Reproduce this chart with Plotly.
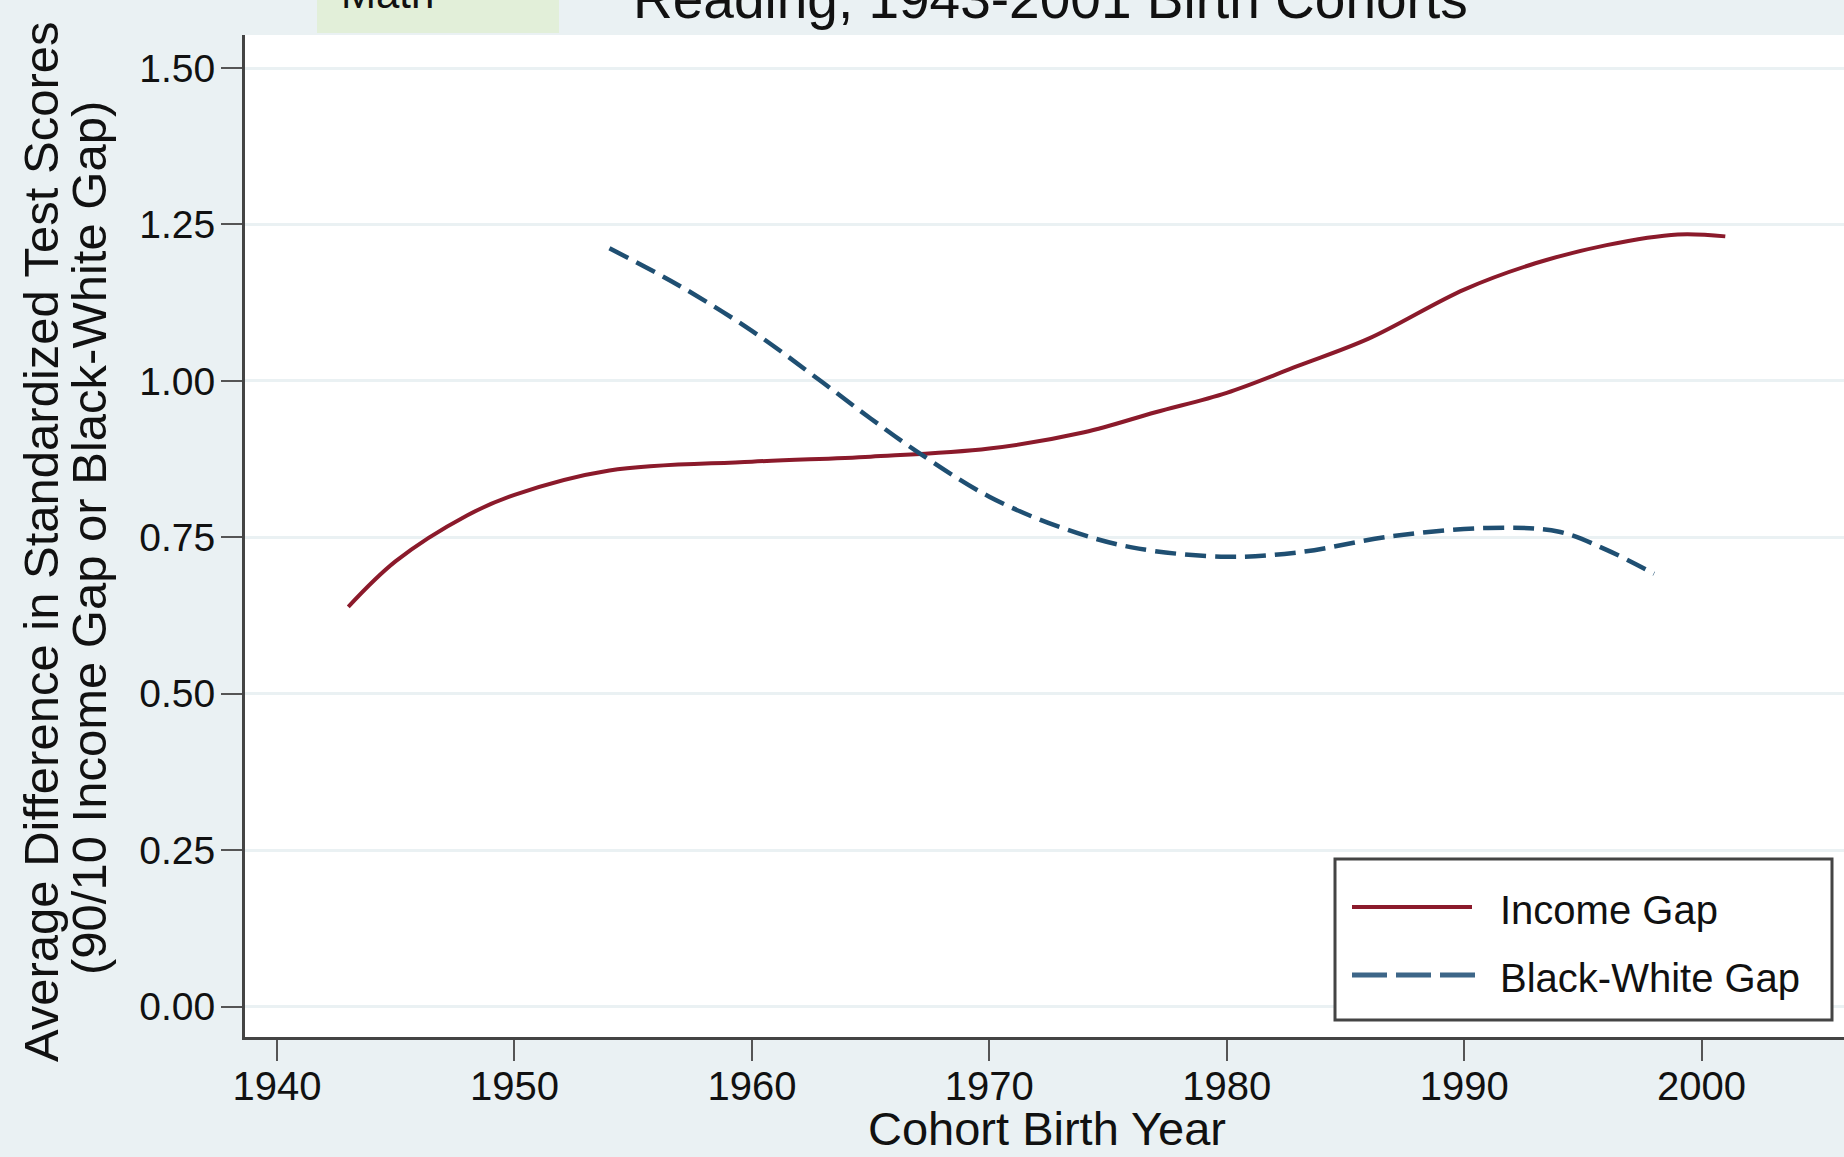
import plotly.graph_objects as go

# ---- data ----
income_years = [1943, 1945, 1948, 1950, 1954, 1960, 1965, 1970, 1974, 1977,
                1980, 1983, 1986, 1990, 1993, 1996, 1999, 2001]
income_gap = [0.639, 0.712, 0.785, 0.818, 0.857, 0.871, 0.879, 0.892, 0.918, 0.950,
              0.981, 1.024, 1.068, 1.146, 1.188, 1.217, 1.234, 1.231]

bw_years = [1954, 1957, 1960, 1963, 1965, 1967, 1970, 1973, 1976, 1980,
            1983, 1987, 1991, 1994, 1996, 1998]
bw_gap = [1.212, 1.151, 1.080, 0.997, 0.940, 0.886, 0.815, 0.766, 0.734, 0.719,
          0.726, 0.752, 0.765, 0.759, 0.730, 0.692]

x_ticks = [1940, 1950, 1960, 1970, 1980, 1990, 2000]
y_ticks = [0.0, 0.25, 0.5, 0.75, 1.0, 1.25, 1.5]
y_ticktext = ["0.00", "0.25", "0.50", "0.75", "1.00", "1.25", "1.50"]

series_names = ["Income Gap", "Black-White Gap"]
title_text = "Reading, 1943-2001 Birth Cohorts"
corner_label = "Math"
x_title = "Cohort Birth Year"
y_title_1 = "Average Difference in Standardized Test Scores"
y_title_2 = "(90/10 Income Gap or Black-White Gap)"

RED = "#8b1a2b"
BLUE = "#1f4f72"
BG = "#eaf1f3"
FONT = "Liberation Sans, Arial, sans-serif"

W, H = 1844, 1157
ML, MR, MT, MB = 245, 0, 35, 120
PW, PH = W - ML - MR, H - MT - MB


def px_x(p):
    return (p - ML) / PW


def px_y(p):
    return (H - MB - p) / PH


fig = go.Figure()
fig.add_trace(go.Scatter(x=income_years, y=income_gap, mode="lines",
                         name=series_names[0],
                         line=dict(color=RED, width=4, shape="spline", smoothing=1.0)))
fig.add_trace(go.Scatter(x=bw_years, y=bw_gap, mode="lines",
                         name=series_names[1],
                         line=dict(color=BLUE, width=4.5, shape="spline", smoothing=1.0,
                                   dash="21px,9px")))

fig.update_layout(
    width=W, height=H,
    margin=dict(l=ML, r=MR, t=MT, b=MB, pad=0),
    paper_bgcolor=BG, plot_bgcolor="white",
    showlegend=False,
    font=dict(family=FONT, color="#111111"),
)

fig.update_xaxes(range=[1938.65, 2006.0], tickvals=x_ticks,
                 ticks="outside", ticklen=21, tickwidth=2, tickcolor="#555555",
                 showgrid=False, zeroline=False,
                 showline=True, linecolor="#444444", linewidth=3,
                 tickfont=dict(size=40, family=FONT, color="#111111"),
                 ticklabelstandoff=-9)
fig.update_yaxes(range=[-0.0484, 1.5528], tickvals=y_ticks, ticktext=y_ticktext,
                 ticks="outside", ticklen=21, tickwidth=2, tickcolor="#555555",
                 showgrid=True, gridcolor=BG, gridwidth=3, zeroline=False,
                 showline=True, linecolor="#444444", linewidth=3,
                 tickfont=dict(size=39, family=FONT, color="#111111"),
                 ticklabelstandoff=-2)

shapes = []
annotations = []

# green "Math" box at the top (partly cut off)
shapes.append(dict(type="rect", xref="paper", yref="paper",
                   x0=px_x(317), x1=px_x(559), y0=px_y(33), y1=px_y(-5),
                   fillcolor="#e2efd9", line=dict(width=0), layer="above"))
annotations.append(dict(text=corner_label, xref="paper", yref="paper",
                        x=px_x(339), y=px_y(19), xanchor="left", yanchor="bottom",
                        showarrow=False, font=dict(size=42, family=FONT, color="#111111")))

# title (cut off at top)
annotations.append(dict(text=title_text, xref="paper", yref="paper",
                        x=px_x(1050), y=px_y(32), xanchor="center", yanchor="bottom",
                        showarrow=False, font=dict(size=55, family=FONT, color="#111111")))

# axis titles
annotations.append(dict(text=x_title, xref="paper", yref="paper",
                        x=px_x(1047), y=px_y(1157), xanchor="center", yanchor="bottom",
                        showarrow=False, font=dict(size=47, family=FONT, color="#111111")))
annotations.append(dict(text=y_title_1, xref="paper", yref="paper",
                        x=px_x(41), y=px_y(542), xanchor="center", yanchor="middle",
                        textangle=-90, showarrow=False,
                        font=dict(size=49, family=FONT, color="#111111")))
annotations.append(dict(text=y_title_2, xref="paper", yref="paper",
                        x=px_x(89), y=px_y(538), xanchor="center", yanchor="middle",
                        textangle=-90, showarrow=False,
                        font=dict(size=49, family=FONT, color="#111111")))

# custom legend box
shapes.append(dict(type="rect", xref="paper", yref="paper",
                   x0=px_x(1335), x1=px_x(1832), y0=px_y(1020), y1=px_y(859),
                   fillcolor="white", line=dict(color="#444444", width=3), layer="above"))
shapes.append(dict(type="line", xref="paper", yref="paper",
                   x0=px_x(1352), x1=px_x(1472), y0=px_y(907), y1=px_y(907),
                   line=dict(color=RED, width=4), layer="above"))
shapes.append(dict(type="line", xref="paper", yref="paper",
                   x0=px_x(1352), x1=px_x(1475), y0=px_y(975), y1=px_y(975),
                   line=dict(color="#3d6688", width=5, dash="35px,9px"), layer="above"))
annotations.append(dict(text=series_names[0], xref="paper", yref="paper",
                        x=px_x(1498), y=px_y(907), xanchor="left", yanchor="middle",
                        yshift=-3, showarrow=False,
                        font=dict(size=40, family=FONT, color="#111111")))
annotations.append(dict(text=series_names[1], xref="paper", yref="paper",
                        x=px_x(1498), y=px_y(975), xanchor="left", yanchor="middle",
                        yshift=-3, showarrow=False,
                        font=dict(size=40, family=FONT, color="#111111")))

fig.update_layout(shapes=shapes, annotations=annotations)

fig.write_html("out.html",
               config={"displayModeBar": False},
               post_script="document.body.style.margin='0';"
                           "document.body.style.overflow='hidden';")
